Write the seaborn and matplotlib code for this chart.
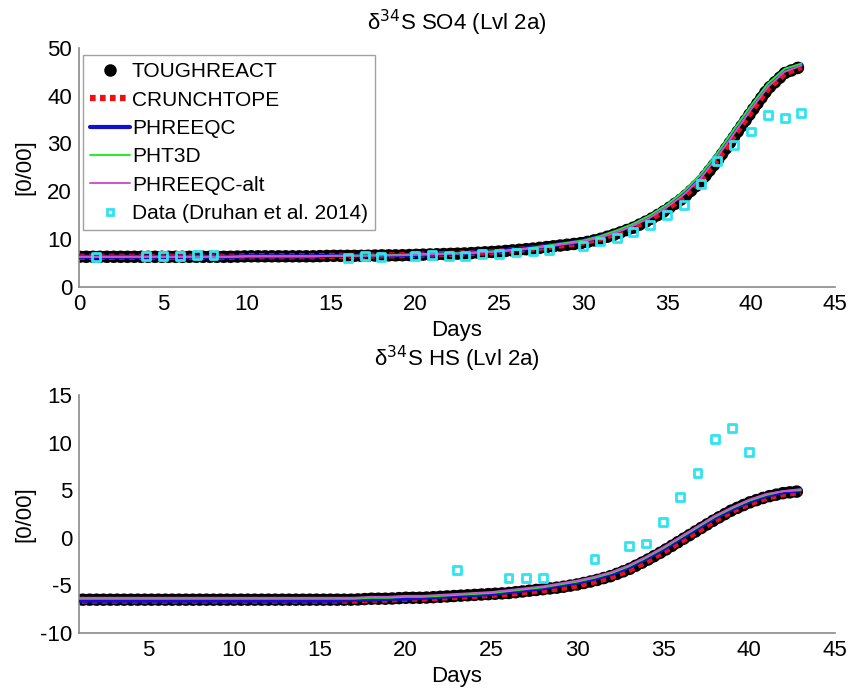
import numpy as np
import pandas as pd
import matplotlib
matplotlib.use('Agg')
import matplotlib.pyplot as plt
from matplotlib.lines import Line2D
import seaborn as sns

sns.set_style('white')
plt.rcParams['font.family'] = ['Liberation Sans', 'DejaVu Sans']
plt.rcParams['axes.unicode_minus'] = False
plt.rcParams['text.color'] = 'black'
plt.rcParams['axes.labelcolor'] = 'black'
plt.rcParams['xtick.color'] = 'black'
plt.rcParams['ytick.color'] = 'black'

# Model output, one value per day (0..43)
days = list(range(44))

so4_toughreact = [6.3, 6.3, 6.3, 6.3, 6.3, 6.3, 6.3, 6.3, 6.3, 6.3, 6.4, 6.4, 6.4, 6.4, 6.4, 6.5,
                  6.5, 6.5, 6.6, 6.6, 6.7, 6.8, 6.9, 7.0, 7.2, 7.4, 7.7, 8.0, 8.4, 8.8, 9.2,
                  10.0, 11.1, 12.4, 14.1, 16.2, 18.7, 22.0, 26.4, 31.4, 36.5, 41.4, 44.7, 46.1]
so4_crunchtope = [6.3, 6.3, 6.3, 6.3, 6.3, 6.3, 6.3, 6.3, 6.3, 6.3, 6.4, 6.4, 6.4, 6.4, 6.4, 6.5,
                  6.5, 6.5, 6.6, 6.6, 6.7, 6.8, 6.9, 7.0, 7.2, 7.4, 7.7, 8.0, 8.4, 8.8, 9.3,
                  10.1, 11.2, 12.5, 14.2, 16.3, 18.9, 22.2, 26.6, 31.6, 36.6, 41.4, 44.6, 46.0]
so4_phreeqc = [6.3, 6.3, 6.3, 6.3, 6.3, 6.3, 6.3, 6.3, 6.3, 6.3, 6.4, 6.4, 6.4, 6.4, 6.4, 6.5,
               6.5, 6.5, 6.6, 6.6, 6.7, 6.8, 6.9, 7.1, 7.3, 7.5, 7.8, 8.2, 8.6, 9.1, 9.6,
               10.5, 11.6, 13.0, 14.8, 17.0, 19.7, 23.2, 27.7, 32.7, 37.6, 42.2, 45.3, 46.5]
so4_pht3d = [6.3, 6.3, 6.3, 6.3, 6.3, 6.3, 6.3, 6.3, 6.3, 6.3, 6.4, 6.4, 6.4, 6.4, 6.4, 6.5,
             6.5, 6.6, 6.6, 6.7, 6.8, 6.9, 7.0, 7.1, 7.3, 7.5, 7.8, 8.2, 8.7, 9.2, 9.7,
             10.6, 11.8, 13.2, 15.0, 17.2, 20.0, 23.5, 28.0, 33.0, 37.9, 42.5, 45.6, 46.7]
so4_phreeqc_alt = [6.3, 6.3, 6.3, 6.3, 6.3, 6.3, 6.3, 6.3, 6.3, 6.3, 6.4, 6.4, 6.4, 6.4, 6.4, 6.5,
                   6.5, 6.5, 6.6, 6.6, 6.7, 6.8, 6.9, 7.0, 7.2, 7.4, 7.7, 8.1, 8.5, 9.0, 9.5,
                   10.3, 11.4, 12.8, 14.5, 16.7, 19.3, 22.7, 27.2, 32.1, 37.1, 41.8, 45.0, 46.3]

hs_toughreact = [-6.5, -6.5, -6.5, -6.5, -6.5, -6.5, -6.5, -6.5, -6.5, -6.5, -6.5, -6.5, -6.5, -6.5, -6.5, -6.5,
                 -6.5, -6.5, -6.4, -6.4, -6.3, -6.3, -6.2, -6.1, -6.0, -5.9, -5.8, -5.6, -5.4, -5.2, -4.9,
                 -4.5, -4.0, -3.3, -2.4, -1.4, -0.3, 0.8, 1.9, 2.9, 3.7, 4.3, 4.7, 4.9]
hs_crunchtope = [-6.6, -6.6, -6.6, -6.6, -6.6, -6.6, -6.6, -6.6, -6.6, -6.6, -6.6, -6.6, -6.6, -6.6, -6.6, -6.6,
                 -6.6, -6.6, -6.5, -6.5, -6.4, -6.4, -6.3, -6.2, -6.1, -6.0, -5.9, -5.7, -5.5, -5.3, -5.0,
                 -4.6, -4.1, -3.4, -2.5, -1.5, -0.4, 0.7, 1.8, 2.8, 3.6, 4.2, 4.6, 4.8]
hs_phreeqc = [-6.6, -6.6, -6.6, -6.6, -6.6, -6.6, -6.6, -6.6, -6.6, -6.6, -6.6, -6.6, -6.6, -6.6, -6.6, -6.6,
              -6.6, -6.5, -6.5, -6.4, -6.4, -6.3, -6.2, -6.1, -6.0, -5.9, -5.7, -5.5, -5.3, -5.0, -4.7,
              -4.3, -3.8, -3.1, -2.2, -1.2, -0.1, 1.0, 2.1, 3.0, 3.8, 4.4, 4.8, 5.0]
hs_pht3d = [-6.4, -6.4, -6.4, -6.4, -6.4, -6.4, -6.4, -6.4, -6.4, -6.4, -6.4, -6.4, -6.4, -6.4, -6.4, -6.4,
            -6.4, -6.4, -6.3, -6.3, -6.2, -6.2, -6.1, -6.0, -5.9, -5.8, -5.6, -5.4, -5.2, -4.9, -4.6,
            -4.2, -3.7, -3.0, -2.1, -1.1, 0.0, 1.1, 2.2, 3.1, 3.9, 4.5, 4.9, 5.0]
hs_phreeqc_alt = [-6.3, -6.3, -6.3, -6.3, -6.3, -6.3, -6.3, -6.3, -6.3, -6.3, -6.3, -6.3, -6.3, -6.3, -6.3, -6.3,
                  -6.3, -6.3, -6.2, -6.2, -6.1, -6.1, -6.0, -5.9, -5.8, -5.7, -5.5, -5.3, -5.1, -4.8, -4.5,
                  -4.1, -3.6, -2.9, -2.0, -1.0, 0.1, 1.2, 2.3, 3.2, 4.0, 4.6, 4.9, 5.1]

# Measured data (Druhan et al. 2014)
so4_data_days = [1, 4, 5, 6, 7, 8, 16, 17, 18, 20, 21, 22, 23, 24, 25, 26, 27, 28, 30, 31,
                 32, 33, 34, 35, 36, 37, 38, 39, 40, 41, 42, 43]
so4_data = [6.3, 6.4, 6.4, 6.4, 6.7, 6.6, 6.1, 6.5, 6.3, 6.5, 6.7, 6.5, 6.5, 6.9, 6.9, 7.2,
            7.4, 7.7, 8.6, 9.5, 10.2, 11.4, 12.9, 15.1, 17.2, 21.5, 26.4, 29.7, 32.5, 36.0, 35.3, 36.3]
hs_data_days = [23, 26, 27, 28, 31, 33, 34, 35, 36, 37, 38, 39, 40]
hs_data = [-3.4, -4.2, -4.2, -4.2, -2.2, -0.9, -0.6, 1.7, 4.3, 6.8, 10.4, 11.5, 9.0]

labels = ['TOUGHREACT', 'CRUNCHTOPE', 'PHREEQC', 'PHT3D', 'PHREEQC-alt',
          'Data (Druhan et al. 2014)']
axis_gray = '#8a8a8a'
data_color = '#2fe4ee'
fs = 16


def draw_panel(ax, tough, crunch, phreeqc, pht3d, alt, ddays, dvals):
    """Draw the five model curves and the data squares on one axes."""
    # TOUGHREACT: dense black dots along the curve
    sns.lineplot(x=days, y=tough, ax=ax, color='black', lw=9, sort=False, zorder=2)
    ax.lines[-1].set_linestyle((0, (0.05, 0.5)))
    ax.lines[-1].set_dash_capstyle('round')
    sns.lineplot(x=days, y=crunch, ax=ax, color='#ee1111', lw=4.5, sort=False, zorder=3)
    ax.lines[-1].set_linestyle((0, (0.9, 0.7)))
    sns.lineplot(x=days, y=phreeqc, ax=ax, color='#1010d0', lw=3, sort=False, zorder=4)
    sns.lineplot(x=days, y=pht3d, ax=ax, color='#22ee22', lw=1.4, sort=False, zorder=5)
    sns.lineplot(x=days, y=alt, ax=ax, color='#cc55cc', lw=1.4, sort=False, zorder=6)
    sns.scatterplot(x=ddays, y=dvals, ax=ax, marker='s', s=32, facecolor='none',
                    edgecolor=data_color, linewidth=2, zorder=7)
    for side in ['top', 'right']:
        ax.spines[side].set_visible(False)
    for side in ['left', 'bottom']:
        ax.spines[side].set_color(axis_gray)
        ax.spines[side].set_linewidth(1.2)
    ax.tick_params(direction='in', length=6, width=1, color=axis_gray,
                   labelcolor='black', labelsize=fs, pad=5)
    ax.set_xlabel('Days', fontsize=fs, labelpad=4)
    ax.set_ylabel('[0/00]', fontsize=fs)
    ax.yaxis.set_label_coords(-0.058, 0.5)


fig = plt.figure(figsize=(8.61, 6.93), dpi=100)
ax1 = fig.add_axes([0.0918, 0.586, 0.878, 0.345])
ax2 = fig.add_axes([0.0918, 0.0866, 0.878, 0.3434])

draw_panel(ax1, so4_toughreact, so4_crunchtope, so4_phreeqc, so4_pht3d, so4_phreeqc_alt,
           so4_data_days, so4_data)
ax1.set_xlim(0, 45)
ax1.set_ylim(0, 50)
ax1.set_xticks(range(0, 46, 5))
ax1.set_yticks(range(0, 51, 10))
ax1.set_title('δ$^{34}$S SO4 (Lvl 2a)', fontsize=fs, pad=13)

draw_panel(ax2, hs_toughreact, hs_crunchtope, hs_phreeqc, hs_pht3d, hs_phreeqc_alt,
           hs_data_days, hs_data)
ax2.set_xlim(1, 45)
ax2.set_ylim(-10, 15)
ax2.set_xticks(range(5, 46, 5))
ax2.set_yticks(range(-10, 16, 5))
ax2.set_title('δ$^{34}$S HS (Lvl 2a)', fontsize=fs, pad=21)

handles = [
    Line2D([], [], color='black', marker='o', ls='none', markersize=8),
    Line2D([], [], color='#ee1111', lw=4.5, ls=(0, (0.9, 0.7))),
    Line2D([], [], color='#1010d0', lw=3),
    Line2D([], [], color='#22ee22', lw=1.4),
    Line2D([], [], color='#cc55cc', lw=1.4),
    Line2D([], [], color=data_color, marker='s', ls='none', markersize=5,
           markerfacecolor='none', markeredgewidth=2),
]
leg = ax1.legend(handles, labels, loc='upper left', bbox_to_anchor=(0.005, 0.97),
                 fontsize=15, frameon=True, fancybox=False, handlelength=1.9,
                 handletextpad=0.1, borderpad=0.35, labelspacing=0.45, borderaxespad=0)
leg.get_frame().set_edgecolor(axis_gray)
leg.get_frame().set_linewidth(1.0)

plt.savefig('out.png', dpi=100)
